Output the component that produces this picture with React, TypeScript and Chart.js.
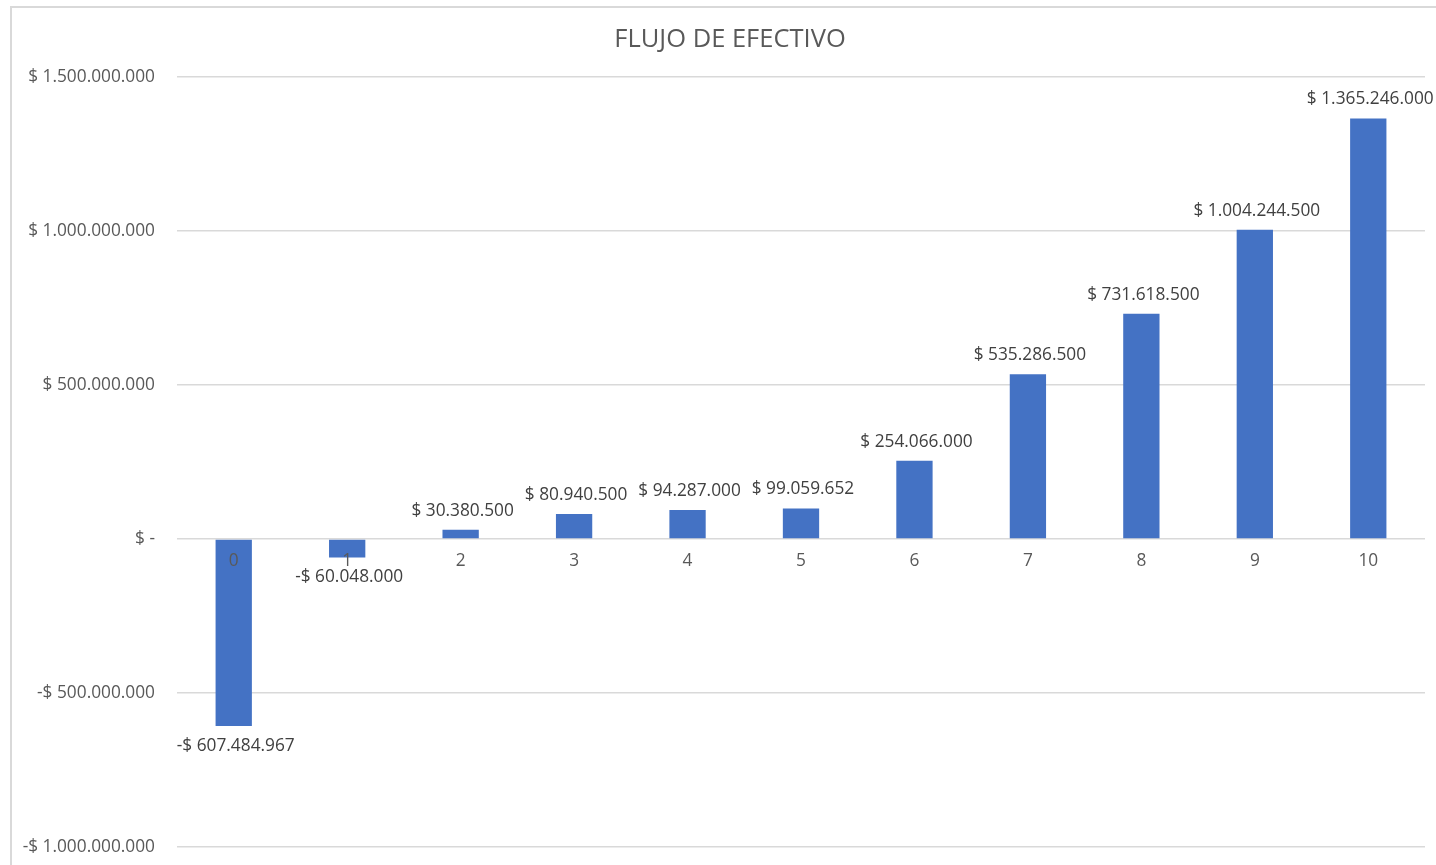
import React, { useEffect, useRef } from "react";
import { Chart, registerables } from "chart.js";

Chart.register(...registerables);

const categories = ["0", "1", "2", "3", "4", "5", "6", "7", "8", "9", "10"];
const cashFlow = [
  -607484967, -60048000, 30380500, 80940500, 94287000, 99059652, 254066000,
  535286500, 731618500, 1004244500, 1365246000,
];
const yMin = -1000000000;
const yMax = 1500000000;
const yStep = 500000000;
const chartTitle = "FLUJO DE EFECTIVO";

const FONT = "'Open Sans', 'Liberation Sans', sans-serif";
const LABEL_SIZE = 17.3;

function fmtMoney(v: number): string {
  if (v === 0) return "$ -";
  const abs = Math.abs(Math.round(v));
  const s = abs.toString().replace(/\B(?=(\d{3})+(?!\d))/g, ".");
  return (v < 0 ? "-$ " : "$ ") + s;
}

const dataLabelPlugin = {
  id: "dataLabels",
  afterDatasetsDraw(chart: any) {
    const ctx = chart.ctx;
    const meta = chart.getDatasetMeta(0);
    const data = chart.data.datasets[0].data as number[];
    ctx.save();
    ctx.font = `${LABEL_SIZE}px ${FONT}`;
    ctx.fillStyle = "#404040";
    ctx.textAlign = "center";
    ctx.textBaseline = "middle";
    meta.data.forEach((bar: any, i: number) => {
      const v = data[i];
      const y = v >= 0 ? bar.y - 19 : bar.y + 20;
      ctx.fillText(fmtMoney(v), bar.x + 2, y);
    });
    ctx.restore();
  },
};

export default function App() {
  const ref = useRef<HTMLCanvasElement>(null);
  useEffect(() => {
    if (!ref.current) return;
    const chart = new Chart(ref.current, {
      type: "bar",
      data: {
        labels: categories,
        datasets: [
          {
            data: cashFlow,
            backgroundColor: "#4472C4",
            barPercentage: 0.32,
            categoryPercentage: 1,
          },
        ],
      },
      plugins: [dataLabelPlugin],
      options: {
        animation: false,
        responsive: true,
        maintainAspectRatio: false,
        layout: { padding: { top: 0, right: 11, bottom: 18, left: 23 } },
        plugins: {
          legend: { display: false },
          tooltip: { enabled: false },
          title: {
            display: true,
            text: chartTitle,
            color: "#595959",
            font: { family: FONT, size: 25.5, weight: "normal" },
            padding: { top: 16, bottom: 22.4 },
          },
        },
        scales: {
          x: {
            position: { y: 0 } as any,
            grid: { display: false, drawTicks: false },
            border: { display: false },
            ticks: {
              z: 1,
              color: "#595959",
              font: { family: FONT, size: LABEL_SIZE },
              padding: 12,
            },
          },
          y: {
            min: yMin,
            max: yMax,
            afterFit: (scale: any) => {
              scale.width = 142;
              scale.paddingTop = 10;
              scale.paddingBottom = 10;
              scale._computeLabelArea = () => undefined;
            },
            grid: { color: "#d9d9d9", lineWidth: 1.5, drawTicks: false },
            border: { display: false },
            ticks: {
              stepSize: yStep,
              color: "#595959",
              font: { family: FONT, size: LABEL_SIZE },
              padding: 22,
              callback: (v: any) => fmtMoney(Number(v)),
            },
          },
        },
      },
    });
    return () => chart.destroy();
  }, []);

  return (
    <div
      style={{
        position: "fixed",
        left: 10,
        top: 6,
        width: 1426,
        height: 859,
        borderLeft: "2px solid #d9d9d9",
        borderTop: "2px solid #d9d9d9",
        boxSizing: "border-box",
        background: "#fff",
      }}
    >
      <canvas ref={ref} />
    </div>
  );
}
